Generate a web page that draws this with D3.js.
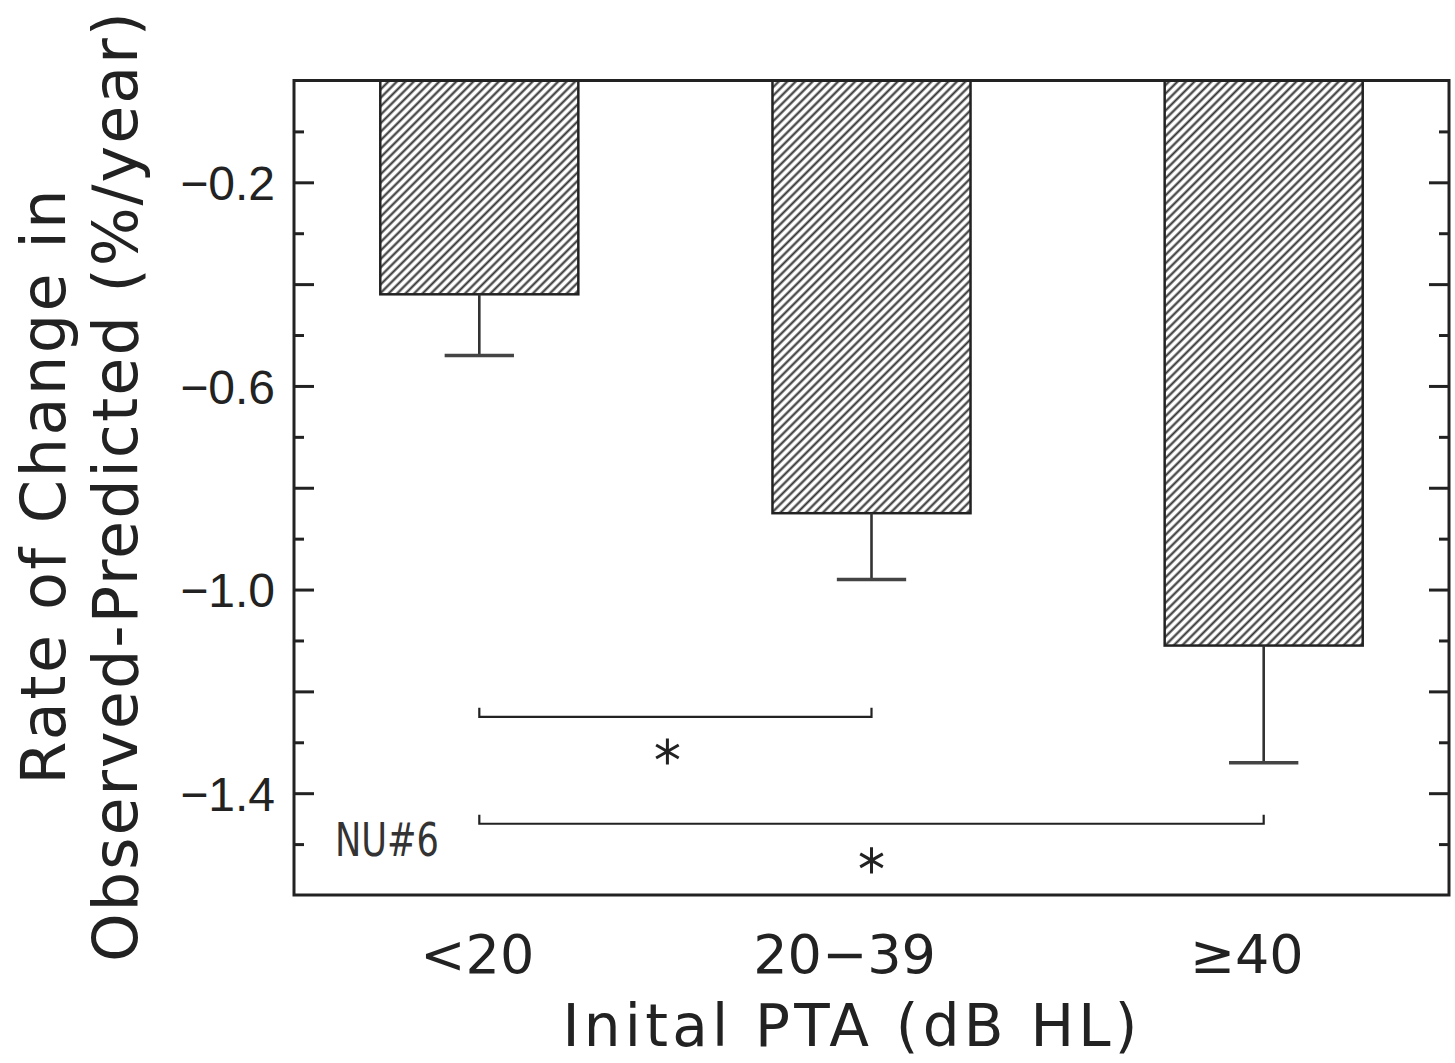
<!DOCTYPE html>
<html>
<head>
<meta charset="utf-8">
<script src="https://cdn.jsdelivr.net/npm/d3@7"></script>
<style>
  body { margin: 0; background: #fff; }
</style>
</head>
<body>
<div id="chart"></div>
<script>
// data
var categories = ["<20", "20\u221239", "\u226540"];
var meanRate = [-0.42, -0.85, -1.11];
var errorLow = [-0.54, -0.98, -1.34];
var labelTicks = [-0.2, -0.6, -1.0, -1.4];
var majorTicks = [-0.2, -0.4, -0.6, -0.8, -1.0, -1.2, -1.4];
var minorTicks = [-0.1, -0.3, -0.5, -0.7, -0.9, -1.1, -1.3, -1.5];
var compFrom = [0, 0];
var compTo = [1, 2];
var compLevel = [-1.25, -1.46];
var compStar = [-1.318, -1.532];

var margin = {top: 80.5, right: 6, bottom: 168, left: 294},
    width = 1455 - margin.left - margin.right,
    height = 1063 - margin.top - margin.bottom;

var svg = d3.select("#chart").append("svg")
    .attr("width", 1455)
    .attr("height", 1063);

// hatch fill for the bars
var defs = svg.append("defs");
defs.append("pattern")
    .attr("id", "hatch")
    .attr("patternUnits", "userSpaceOnUse")
    .attr("width", 6)
    .attr("height", 10)
    .attr("patternTransform", "rotate(45)")
  .append("line")
    .attr("x1", 1.5).attr("y1", 0)
    .attr("x2", 1.5).attr("y2", 10)
    .style("stroke", "#333")
    .style("stroke-width", 2.1);

var g = svg.append("g")
    .attr("transform", "translate(" + margin.left + "," + margin.top + ")");

var x = d3.scaleBand()
    .domain(categories)
    .range([0, width])
    .paddingInner(0.495)
    .paddingOuter(0.22);

var y = d3.scaleLinear()
    .domain([0, -1.6])
    .range([0, height]);

var fmt = d3.format(".1f");

// inside ticks, left and right
function tickAxis(axis, vals, size, xpos) {
  var a = g.append("g")
      .attr("class", "ticks")
      .attr("transform", "translate(" + xpos + ",0)")
      .call(axis(y).tickValues(vals).tickSize(size).tickFormat(""));
  a.select(".domain").remove();
  a.selectAll("line").style("stroke", "#222").style("stroke-width", 3);
}
tickAxis(d3.axisRight, majorTicks, 20, 0);
tickAxis(d3.axisRight, minorTicks, 10, 0);
tickAxis(d3.axisLeft, majorTicks, 20, width);
tickAxis(d3.axisLeft, minorTicks, 10, width);

// y tick labels
var yLab = g.append("g")
    .attr("class", "y axis")
    .call(d3.axisLeft(y).tickValues(labelTicks).tickSize(0).tickPadding(19).tickFormat(fmt));
yLab.select(".domain").remove();
yLab.selectAll("text")
    .style("font-family", "'Liberation Sans', Arial, sans-serif")
    .style("font-size", "48px")
    .style("fill", "#222")
    .attr("dy", "0.36em");

// x tick labels
var labelNudge = [-2, -27, -17];
var xLab = g.append("g")
    .attr("class", "x axis")
    .attr("transform", "translate(0," + height + ")")
    .call(d3.axisBottom(x).tickSize(0).tickPadding(0));
xLab.select(".domain").remove();
xLab.selectAll("text")
    .attr("y", 78)
    .attr("dy", 0)
    .attr("dx", function(d, i) { return labelNudge[i]; })
    .style("font-family", "'DejaVu Sans', sans-serif")
    .style("font-size", "54px")
    .style("fill", "#222");

// bars
g.selectAll(".bar")
    .data(meanRate)
  .enter().append("rect")
    .attr("class", "bar")
    .attr("x", function(d, i) { return x(categories[i]); })
    .attr("width", x.bandwidth())
    .attr("y", y(0))
    .attr("height", function(d) { return y(d) - y(0); })
    .style("fill", "url(#hatch)")
    .style("stroke", "#222")
    .style("stroke-width", 2.5);

// error bars (downward only)
var capHalf = x.bandwidth() * 0.175;
var err = g.selectAll(".err")
    .data(errorLow)
  .enter().append("g")
    .attr("class", "err")
    .attr("transform", function(d, i) { return "translate(" + (x(categories[i]) + x.bandwidth() / 2) + ",0)"; });
err.append("line")
    .attr("x1", 0).attr("x2", 0)
    .attr("y1", function(d, i) { return y(meanRate[i]); })
    .attr("y2", function(d) { return y(d); })
    .style("stroke", "#333")
    .style("stroke-width", 2.6);
err.append("line")
    .attr("x1", -capHalf).attr("x2", capHalf)
    .attr("y1", function(d) { return y(d); })
    .attr("y2", function(d) { return y(d); })
    .style("stroke", "#444")
    .style("stroke-width", 3.5);

// significance brackets
function mid(i) { return x(categories[i]) + x.bandwidth() / 2; }
compLevel.forEach(function(lv, k) {
  var x1 = mid(compFrom[k]), x2 = mid(compTo[k]), yy = y(lv);
  g.append("path")
      .attr("d", "M" + x1 + "," + (yy - 9) + "V" + yy + "H" + x2 + "V" + (yy - 9))
      .style("fill", "none")
      .style("stroke", "#222")
      .style("stroke-width", 2.2);
  g.append("path")
      .attr("d", d3.symbol().type(d3.symbolAsterisk).size(480))
      .attr("transform", "translate(" + ((x1 + x2) / 2 - (k == 0 ? 8 : 0)) + "," + y(compStar[k]) + ")")
      .style("fill", "none")
      .style("stroke", "#222")
      .style("stroke-width", 3);
});

// panel tag
g.append("text")
    .attr("x", 41)
    .attr("y", 775.5)
    .attr("textLength", 104)
    .attr("lengthAdjust", "spacingAndGlyphs")
    .style("font-family", "'DejaVu Sans Condensed', 'Liberation Sans Narrow', 'DejaVu Sans', sans-serif")
    .style("font-size", "46px")
    .style("fill", "#333")
    .text("NU#6");

// frame
g.append("rect")
    .attr("width", width)
    .attr("height", height)
    .style("fill", "none")
    .style("stroke", "#222")
    .style("stroke-width", 3);

// axis titles
svg.append("text")
    .attr("x", 850)
    .attr("y", 1046)
    .attr("text-anchor", "middle")
    .attr("textLength", 575)
    .attr("lengthAdjust", "spacing")
    .style("font-family", "'DejaVu Sans', sans-serif")
    .style("font-size", "58px")
    .style("fill", "#222")
    .text("Inital PTA (dB HL)");

var yTitle = [["Rate of Change in", 65, 595], ["Observed-Predicted (%/year)", 137, 950]];
yTitle.forEach(function(t) {
  svg.append("text")
      .attr("transform", "translate(" + t[1] + ",487) rotate(-90)")
      .attr("text-anchor", "middle")
      .attr("textLength", t[2])
      .attr("lengthAdjust", "spacing")
      .style("font-family", "'DejaVu Sans', sans-serif")
      .style("font-size", "62px")
      .style("fill", "#222")
      .text(t[0]);
});
</script>
</body>
</html>
